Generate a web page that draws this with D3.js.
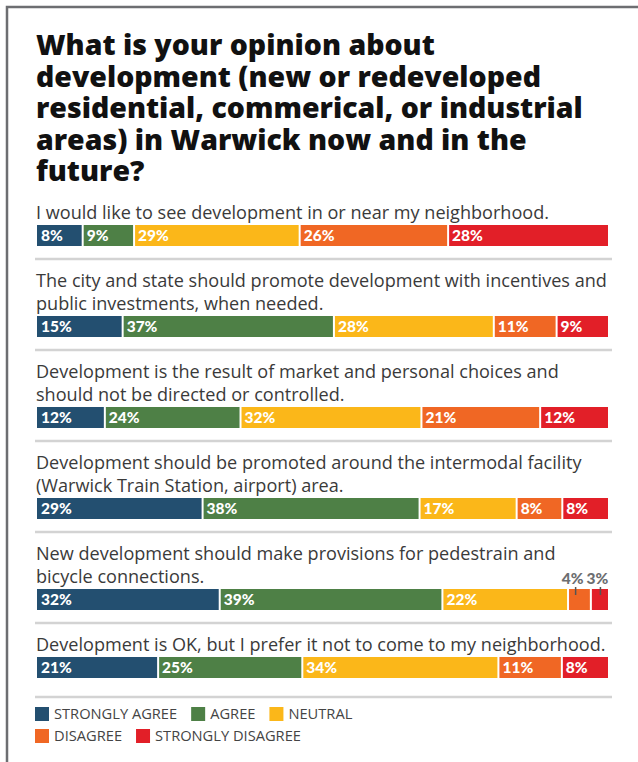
<!DOCTYPE html>
<html>
<head>
<meta charset="utf-8">
<script src="https://cdn.jsdelivr.net/npm/d3@7"></script>
<style>
  html, body { margin: 0; padding: 0; background: #fff; }
  svg { display: block; }
</style>
</head>
<body>
<div id="chart"></div>
<script>
// Survey responses, one row per statement
const titleLines = [
  "What is your opinion about",
  "development (new or redeveloped",
  "residential, commerical, or industrial",
  "areas) in Warwick now and in the",
  "future?"
];

const categories = ["STRONGLY AGREE", "AGREE", "NEUTRAL", "DISAGREE", "STRONGLY DISAGREE"];
const colors = ["#234f70", "#4e8046", "#fbb719", "#f06724", "#e21f28"];

const statements = [
  ["I would like to see development in or near my neighborhood."],
  ["The city and state should promote development with incentives and", "public investments, when needed."],
  ["Development is the result of market and personal choices and", "should not be directed or controlled."],
  ["Development should be promoted around the intermodal facility", "(Warwick Train Station, airport) area."],
  ["New development should make provisions for pedestrain and", "bicycle connections."],
  ["Development is OK, but I prefer it not to come to my neighborhood."]
];

const stronglyAgree    = [8, 15, 12, 29, 32, 21];
const agree            = [9, 37, 24, 38, 39, 25];
const neutral          = [29, 28, 32, 17, 22, 34];
const disagree         = [26, 11, 21, 8, 4, 11];
const stronglyDisagree = [28, 9, 12, 8, 3, 8];

const series = [stronglyAgree, agree, neutral, disagree, stronglyDisagree];

const W = 638, H = 762;
const svg = d3.select("#chart").append("svg").attr("width", W).attr("height", H);

const textFont = "'Open Sans', Lato, sans-serif";
const numFont = "Lato, 'Open Sans', sans-serif";

// size a font so that a reference string spans the wanted width
function fitSize(family, weight, sample, width, start) {
  const probe = svg.append("text")
    .attr("font-family", family).attr("font-weight", weight)
    .attr("font-size", start).text(sample);
  const w = probe.node().getComputedTextLength();
  probe.remove();
  return start * width / w;
}

// frame (top and left edges)
svg.append("path")
  .attr("d", `M7,${H} L7,7 L${W},7`)
  .attr("fill", "none")
  .attr("stroke", "#6d6e71")
  .attr("stroke-width", 2.5);

// title
const titleSize = fitSize(textFont, 800, titleLines[2], 547, 30);
const title = svg.append("text")
  .attr("font-family", textFont)
  .attr("font-weight", 800)
  .attr("font-size", titleSize)
  .attr("fill", "#111");
titleLines.forEach((t, i) => {
  title.append("tspan").attr("x", 36).attr("y", 55 + i * 31.5).text(t);
});

const left = 37, right = 608;
const barH = 21, lineH = 23;
const stmtSize = fitSize(textFont, 400, statements[5][0], 570, 17);

let cursor = 191; // top of first statement block
statements.forEach((lines, r) => {
  const vals = series.map(s => s[r]);
  const total = d3.sum(vals);
  const x = d3.scaleLinear().domain([0, total]).range([left, right]);
  const barTop = cursor + lines.length * lineH + 11;

  const g = svg.append("g");

  // statement text
  lines.forEach((t, i) => {
    g.append("text")
      .attr("x", 36)
      .attr("y", barTop - 6 - (lines.length - 1 - i) * lineH)
      .attr("font-family", textFont)
      .attr("font-size", stmtSize)
      .attr("fill", "#3a3a3a")
      .text(t);
  });

  // stacked segments
  const segs = [];
  let cum = 0;
  vals.forEach((v, i) => {
    segs.push({ i, v, x0: x(cum), x1: x(cum + v) });
    cum += v;
  });

  g.selectAll("rect.seg").data(segs).join("rect")
    .attr("class", "seg")
    .attr("x", d => d.x0 + (d.i > 0 ? 1 : 0))
    .attr("y", barTop)
    .attr("width", d => d.x1 - d.x0 - (d.i > 0 ? 1 : 0) - (d.i < segs.length - 1 ? 1 : 0))
    .attr("height", barH)
    .attr("fill", d => colors[d.i]);

  // labels inside the wide segments
  g.selectAll("text.val").data(segs.filter(d => d.v >= 5)).join("text")
    .attr("class", "val")
    .attr("x", d => d.x0 + 4)
    .attr("y", barTop + 16)
    .attr("font-family", numFont)
    .attr("font-weight", 900)
    .attr("font-size", 15.5)
    .attr("fill", "#fff")
    .text(d => d.v + "%");

  // narrow segments get their labels above the bar with a leader tick
  const small = segs.filter(d => d.v < 5);
  let nextLeft = right + 3;
  for (let k = small.length - 1; k >= 0; k--) {
    const d = small[k];
    const t = g.append("text")
      .attr("y", barTop - 5)
      .attr("font-family", numFont)
      .attr("font-weight", 900)
      .attr("font-size", 15.5)
      .attr("fill", "#6d6e71")
      .attr("text-anchor", "middle")
      .text(d.v + "%");
    const w = t.node().getComputedTextLength();
    let cx = (d.x0 + d.x1) / 2 - 2;
    if (cx + w / 2 > nextLeft) cx = nextLeft - w / 2;
    t.attr("x", cx);
    nextLeft = cx - w / 2 - 3;
    g.append("line")
      .attr("x1", cx + 3).attr("x2", cx + 3)
      .attr("y1", barTop - 2).attr("y2", barTop + 6)
      .attr("stroke", "#555")
      .attr("stroke-width", 1.5);
  }

  // separator
  const sepY = barTop + barH + (r === statements.length - 1 ? 19 : 13);
  g.append("line")
    .attr("x1", 35).attr("x2", 612)
    .attr("y1", sepY).attr("y2", sepY)
    .attr("stroke", "#d3d3d3")
    .attr("stroke-width", 2.5);

  cursor = sepY;
});

// legend
const legendSize = fitSize(textFont, 400, categories[4], 146, 14);
const legendRows = [[0, 1, 2], [3, 4]];
legendRows.forEach((row, ri) => {
  const y = 707 + ri * 22;
  let lx = 35;
  row.forEach(ci => {
    svg.append("rect")
      .attr("x", lx).attr("y", y)
      .attr("width", 14).attr("height", 14)
      .attr("fill", colors[ci]);
    const t = svg.append("text")
      .attr("x", lx + 19)
      .attr("y", y + 12)
      .attr("font-family", textFont)
      .attr("font-size", legendSize)
      .attr("fill", "#444")
      .text(categories[ci]);
    lx += 19 + t.node().getComputedTextLength() + 14;
  });
});
</script>
</body>
</html>
